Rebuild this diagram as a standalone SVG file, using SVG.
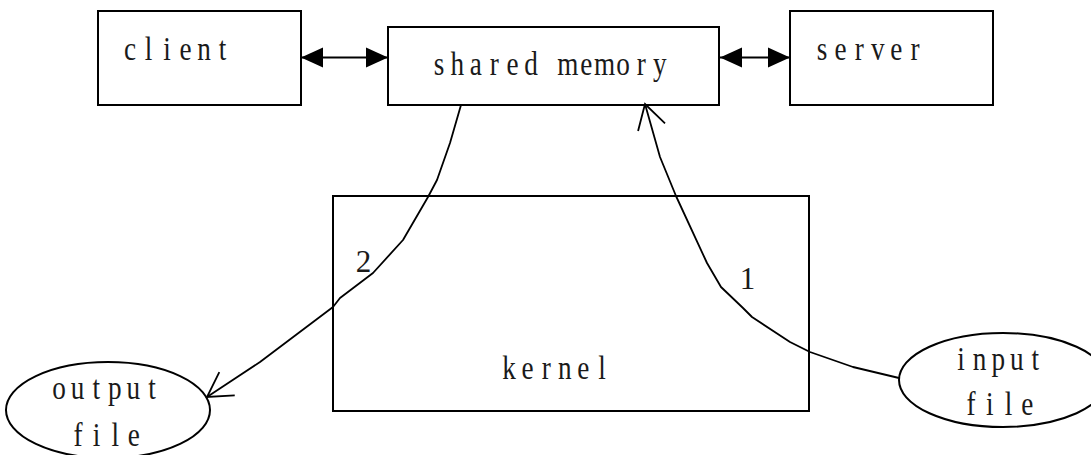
<svg xmlns="http://www.w3.org/2000/svg" width="1091" height="455" viewBox="0 0 1091 455">
  <style>
    .box { fill: #fff; stroke: #000; stroke-width: 2; }
    .ell { fill: #fff; stroke: #000; stroke-width: 2; }
    .link { fill: none; stroke: #000; stroke-width: 2; }
    .flow { fill: none; stroke: #000; stroke-width: 1.8; stroke-linejoin: round; }
    .t { font-family: "Liberation Serif", "DejaVu Serif", serif; font-size: 34px; fill: #1a1a1a; text-anchor: middle; }
    .n { font-family: "Liberation Serif", "DejaVu Serif", serif; font-size: 31px; fill: #1a1a1a; text-anchor: middle; }
  </style>
  <defs>
    <!-- solid head used on both ends of the two-way links -->
    <marker id="solid" markerUnits="userSpaceOnUse" markerWidth="22" markerHeight="20" refX="22" refY="10" orient="auto-start-reverse" overflow="visible">
      <path d="M0,0 L22,10 L0,20 Z" fill="#000"/>
    </marker>
    <!-- open V head at the end of the data flows -->
    <marker id="open" markerUnits="userSpaceOnUse" markerWidth="30" markerHeight="30" refX="28" refY="15" orient="auto" overflow="visible">
      <path d="M4,1 L28,15 L4,29" fill="none" stroke="#000" stroke-width="1.8"/>
    </marker>
  </defs>

  <rect width="1091" height="455" fill="#fff"/>

  <g id="kernel">
    <rect class="box" x="333" y="196" width="476" height="215"/>
    <text class="t" transform="matrix(0.8 0 0 1 509 0)" x="0 23.25 46.5 69.75 93 116.25" y="379">kernel</text>
  </g>

  <g id="client">
    <rect class="box" x="98" y="11" width="203" height="94"/>
    <text class="t" transform="matrix(0.8 0 0 1 130 0)" x="0 23.1 46.3 69.4 92.5 115.6" y="60">client</text>
  </g>

  <g id="shared-memory">
    <rect class="box" x="388" y="27" width="331" height="78"/>
    <text class="t" transform="matrix(0.8 0 0 1 439 0)" x="0 23 46 69 92 115 138 161 184 207 230 253 276" y="75">shared memory</text>
  </g>

  <g id="server">
    <rect class="box" x="790" y="11" width="203" height="94"/>
    <text class="t" transform="matrix(0.8 0 0 1 822 0)" x="0 23.25 46.5 69.75 93 116.25" y="60">server</text>
  </g>

  <g id="output-file">
    <ellipse class="ell" cx="108" cy="410" rx="102" ry="48"/>
    <text class="t" transform="matrix(0.8 0 0 1 59 0)" x="0 23.25 46.5 69.75 93 116.25" y="399">output</text>
    <text class="t" transform="matrix(0.8 0 0 1 78 0)" x="0 23.25 46.5 69.75" y="446">file</text>
  </g>

  <g id="input-file">
    <ellipse class="ell" cx="1003" cy="380" rx="104" ry="47"/>
    <text class="t" transform="matrix(0.8 0 0 1 961 0)" x="0 23.25 46.5 69.75 93" y="370">input</text>
    <text class="t" transform="matrix(0.8 0 0 1 971 0)" x="0 23.5 47 70.5" y="415">file</text>
  </g>

  <g id="connectors">
    <line class="link" x1="301" y1="57.5" x2="388" y2="57.5" marker-start="url(#solid)" marker-end="url(#solid)"/>
    <line class="link" x1="720" y1="57.5" x2="790" y2="57.5" marker-start="url(#solid)" marker-end="url(#solid)"/>
    <!-- step 1: input file loaded into shared memory -->
    <polyline class="flow" points="899,378 853,367 810,352 790,342 752,317 743,308 721,287 707,263 676,196 660,157 645,104" marker-end="url(#open)"/>
    <!-- step 2: shared memory written to output file -->
    <polyline class="flow" points="461,105 450,143 437,180 428,197 403,240 373,273 340,298 333,307 260,362 207,397" marker-end="url(#open)"/>
    <text class="n" x="363.5" y="271.5">2</text>
    <text class="n" x="747.5" y="288.5">1</text>
  </g>
</svg>
